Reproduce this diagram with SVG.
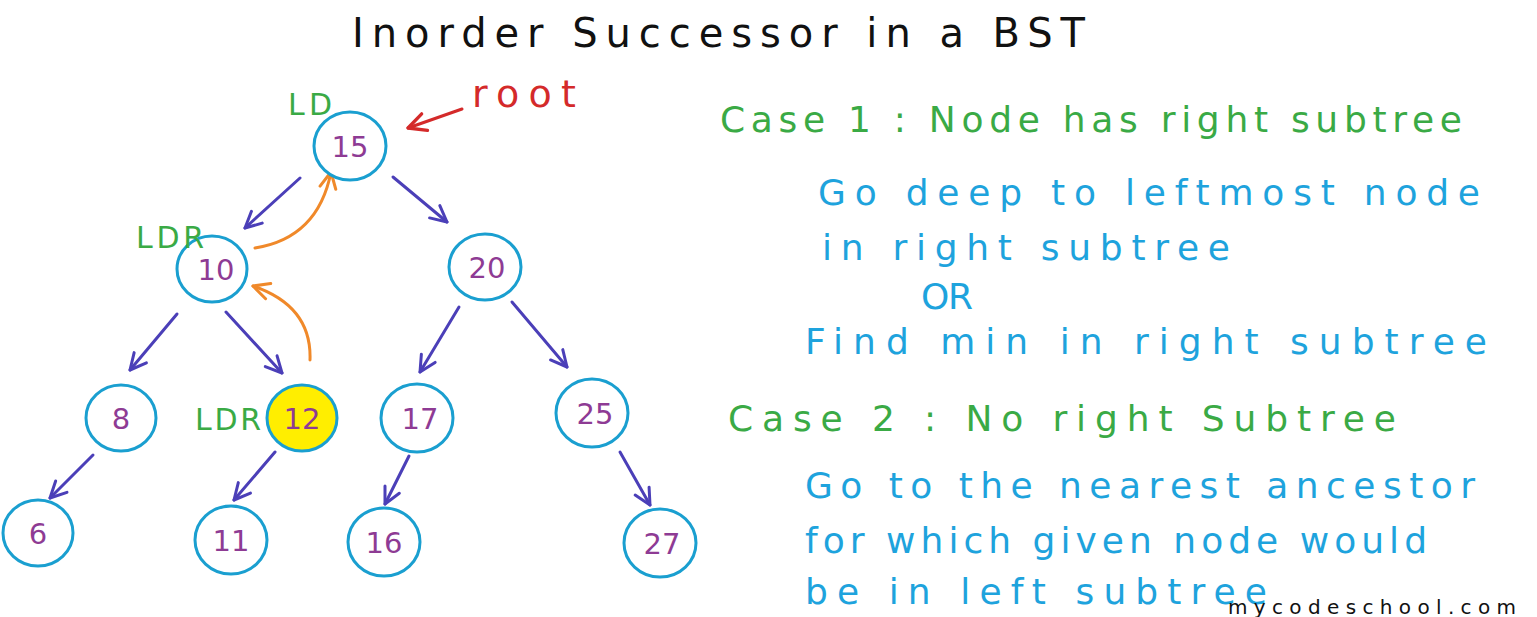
<svg xmlns="http://www.w3.org/2000/svg" width="1537" height="617" viewBox="0 0 1537 617">
<defs>
<marker id="ah" viewBox="0 0 20 20" refX="18" refY="10" markerWidth="20" markerHeight="20" markerUnits="userSpaceOnUse" orient="auto">
<path d="M2,2 L18,10 L2,18" fill="none" stroke="#4b3fb8" stroke-width="3" stroke-linecap="round" stroke-linejoin="round"/>
</marker>
<marker id="aho" viewBox="0 0 20 20" refX="18" refY="10" markerWidth="20" markerHeight="20" markerUnits="userSpaceOnUse" orient="auto">
<path d="M2,2 L18,10 L2,18" fill="none" stroke="#f0892a" stroke-width="3" stroke-linecap="round" stroke-linejoin="round"/>
</marker>
<marker id="ahr" viewBox="0 0 20 20" refX="18" refY="10" markerWidth="22" markerHeight="22" markerUnits="userSpaceOnUse" orient="auto">
<path d="M2,2 L18,10 L2,18" fill="none" stroke="#d42a2a" stroke-width="3" stroke-linecap="round" stroke-linejoin="round"/>
</marker>
</defs>
<style>
.n ellipse{fill:#fff;stroke:#1a9fd0;stroke-width:3}
.n text{font-family:"DejaVu Sans","Liberation Sans",sans-serif;font-size:29px;fill:#8e3b94;text-anchor:middle}
.e{stroke:#4b3fb8;stroke-width:3;fill:none;stroke-linecap:round;marker-end:url(#ah)}
.o{stroke:#f0892a;stroke-width:3;fill:none;stroke-linecap:round;marker-end:url(#aho)}
.g{font-family:"DejaVu Sans","Liberation Sans",sans-serif;fill:#3aaa45}
.b{font-family:"DejaVu Sans","Liberation Sans",sans-serif;fill:#1ea3dd;font-size:36px}
.t{font-family:"DejaVu Sans","Liberation Sans",sans-serif;fill:#111;font-size:40px}
</style>
<rect width="1537" height="617" fill="#fff"/>
<text class="t" x="352" y="47" textLength="733" lengthAdjust="spacing">Inorder Successor in a BST</text>

<g id="connectors">
<path class="e" d="M300,178 L245,228"/>
<path class="e" d="M393,177 L447,222"/>
<path class="e" d="M177,314 L130,370"/>
<path class="e" d="M226,312 L282,373"/>
<path class="e" d="M459,307 L420,372"/>
<path class="e" d="M512,302 L567,367"/>
<path class="e" d="M93,455 L50,498"/>
<path class="e" d="M275,452 L234,500"/>
<path class="e" d="M409,456 L385,504"/>
<path class="e" d="M620,452 L650,505"/>
<path class="o" d="M255,248 Q318,238 331,172"/>
<path class="o" d="M310,360 Q312,306 253,286"/>
<path d="M462,109 L408,128" stroke="#d42a2a" stroke-width="3" fill="none" stroke-linecap="round" marker-end="url(#ahr)"/>
</g>

<g id="n15" class="n"><ellipse cx="350" cy="146" rx="36" ry="34"/><text x="350" y="157">15</text></g>
<g id="n10" class="n"><ellipse cx="212" cy="269" rx="35" ry="33"/><text x="216" y="280">10</text></g>
<g id="n20" class="n"><ellipse cx="485" cy="267" rx="36" ry="33"/><text x="487" y="278">20</text></g>
<g id="n8" class="n"><ellipse cx="121" cy="418" rx="35" ry="33"/><text x="121" y="429">8</text></g>
<g id="n12" class="n"><ellipse cx="302" cy="418" rx="35" ry="33" style="fill:#ffee00"/><text x="302" y="429">12</text></g>
<g id="n17" class="n"><ellipse cx="417" cy="418" rx="36" ry="34"/><text x="420" y="429">17</text></g>
<g id="n25" class="n"><ellipse cx="592" cy="413" rx="36" ry="34"/><text x="595" y="424">25</text></g>
<g id="n6" class="n"><ellipse cx="38" cy="533" rx="35" ry="33"/><text x="38" y="544">6</text></g>
<g id="n11" class="n"><ellipse cx="231" cy="540" rx="36" ry="34"/><text x="231" y="551">11</text></g>
<g id="n16" class="n"><ellipse cx="384" cy="542" rx="36" ry="34"/><text x="384" y="553">16</text></g>
<g id="n27" class="n"><ellipse cx="660" cy="543" rx="36" ry="34"/><text x="662" y="554">27</text></g>

<text x="472" y="107" font-family="DejaVu Sans, Liberation Sans, sans-serif" font-size="38" fill="#d42a2a" textLength="104" lengthAdjust="spacing">root</text>
<text class="g" x="288" y="115" font-size="30" textLength="44" lengthAdjust="spacing">LD</text>
<text class="g" x="136" y="248" font-size="30" textLength="68" lengthAdjust="spacing">LDR</text>
<text class="g" x="195" y="430" font-size="30" textLength="66" lengthAdjust="spacing">LDR</text>

<text class="g" x="720" y="132" font-size="36" textLength="742" lengthAdjust="spacing">Case 1 : Node has right subtree</text>
<text class="b" x="818" y="205" textLength="662" lengthAdjust="spacing">Go deep to leftmost node</text>
<text class="b" x="822" y="260" textLength="408" lengthAdjust="spacing">in right subtree</text>
<text class="b" x="921" y="309" font-size="26" textLength="52" lengthAdjust="spacing">OR</text>
<text class="b" x="805" y="354" textLength="682" lengthAdjust="spacing">Find min in right subtree</text>
<text class="g" x="728" y="431" font-size="36" textLength="668" lengthAdjust="spacing">Case 2 :  No  right  Subtree</text>
<text class="b" x="805" y="498" textLength="670" lengthAdjust="spacing">Go to the nearest ancestor</text>
<text class="b" x="805" y="553" textLength="622" lengthAdjust="spacing">for which given node would</text>
<text class="b" x="805" y="604" textLength="462" lengthAdjust="spacing">be in left subtree</text>
<text x="1228" y="614" font-family="DejaVu Sans, Liberation Sans, sans-serif" font-size="20" fill="#111" textLength="288" lengthAdjust="spacing">mycodeschool.com</text>
</svg>
